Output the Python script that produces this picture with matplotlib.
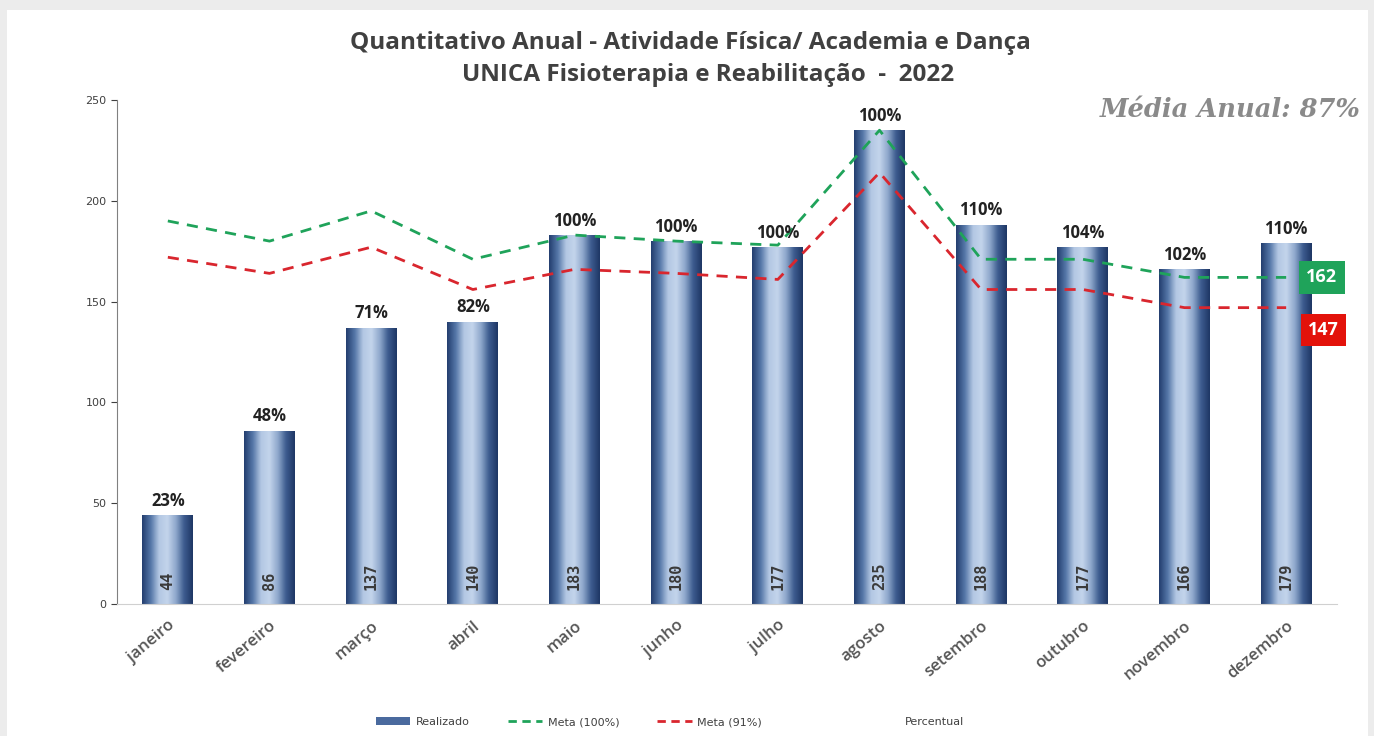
import numpy as np
import matplotlib
matplotlib.use("Agg")
import matplotlib.pyplot as plt
from matplotlib.colors import LinearSegmentedColormap
from matplotlib.patches import Rectangle, Patch
from matplotlib.lines import Line2D

# data
meses = ["janeiro", "fevereiro", "março", "abril", "maio", "junho",
         "julho", "agosto", "setembro", "outubro", "novembro", "dezembro"]
realizado = [44, 86, 137, 140, 183, 180, 177, 235, 188, 177, 166, 179]
meta_100 = [190, 180, 195, 171, 183, 180, 178, 235, 171, 171, 162, 162]
meta_91 = [172, 164, 177, 156, 166, 164, 161, 214, 156, 156, 147, 147]
percentual = ["23%", "48%", "71%", "82%", "100%", "100%", "100%", "100%",
              "110%", "104%", "102%", "110%"]
media_anual = "Média Anual: 87%"

GREEN = "#1fa35a"
RED = "#d9262e"
TXT = "#404040"

fig = plt.figure(figsize=(13.74, 7.36), dpi=100, facecolor="#ececec")
# white card with a light shadow frame
fig.patches.append(Rectangle((7 / 1374, 0), 1361 / 1374, 726 / 736,
                             transform=fig.transFigure, facecolor="white",
                             edgecolor="none", zorder=-5))

ax = fig.add_axes([117 / 1374, 132 / 736, 1220 / 1374, 504 / 736])
ax.set_facecolor("none")
x = np.arange(len(meses))

# bars with a horizontal "cylinder" gradient
bars = ax.bar(x, realizado, width=0.5, color="none", zorder=2)
cmap = LinearSegmentedColormap.from_list(
    "cyl", ["#243f70", "#5577a8", "#b3c7e3", "#c4d5ec", "#8fa8cc", "#3d5c8f", "#1f3765"])
grad = np.linspace(0, 1, 64).reshape(1, -1)
for b in bars:
    x0, w, h = b.get_x(), b.get_width(), b.get_height()
    im = ax.imshow(grad, cmap=cmap, aspect="auto", extent=[x0, x0 + w, 0, h],
                   zorder=2, interpolation="bicubic")
    im.set_clip_path(b)

ax.plot(x, meta_100, color=GREEN, lw=2, ls=(0, (4, 3)), zorder=3)
ax.plot(x, meta_91, color=RED, lw=2, ls=(0, (4, 3)), zorder=3)

for xi, v, p in zip(x, realizado, percentual):
    ax.annotate(p, (xi, v), xytext=(0, 4), textcoords="offset points",
                ha="center", va="bottom", fontsize=12, fontweight="bold",
                color="#222222", family="Open Sans", zorder=5)
    ax.text(xi, 7, str(v), rotation=90, ha="center", va="bottom",
            fontsize=11, fontweight="bold", color="#3a3a3a",
            family="DejaVu Sans Mono", zorder=5)

# end labels
ax.text(11.35, meta_100[-1], str(meta_100[-1]), ha="center", va="center",
        fontsize=13, fontweight="bold", color="white", family="Open Sans",
        bbox=dict(boxstyle="square,pad=0.4", fc=GREEN, ec="none"), zorder=6,
        clip_on=False)
ax.text(11.37, meta_91[-1] - 11, str(meta_91[-1]), ha="center", va="center",
        fontsize=13, fontweight="bold", color="white", family="Open Sans",
        bbox=dict(boxstyle="square,pad=0.4", fc="#e3120b", ec="none"), zorder=6,
        clip_on=False)

ax.set_xlim(-0.5, 11.5)
ax.set_ylim(0, 250)
ax.set_yticks([0, 50, 100, 150, 200, 250])
ax.tick_params(axis="y", labelsize=8, colors=TXT, length=4, direction="out")
ax.set_xticks(x)
ax.set_xticklabels(meses, rotation=40, ha="right", rotation_mode="anchor",
                   fontsize=12, color="#555555", fontweight="semibold",
                   family="Open Sans")
ax.tick_params(axis="x", length=0, pad=10)
for s in ["top", "right"]:
    ax.spines[s].set_visible(False)
ax.spines["left"].set_color("#808080")
ax.spines["bottom"].set_color("#d0d0d0")

fig.text(690 / 1374, 0.942, "Quantitativo Anual - Atividade Física/ Academia e Dança",
         ha="center", va="center", fontsize=17.5, fontweight="bold",
         color=TXT, family="Open Sans")
fig.text(708 / 1374, 0.898, "UNICA Fisioterapia e Reabilitação  -  2022",
         ha="center", va="center", fontsize=17.5, fontweight="bold",
         color=TXT, family="Open Sans")
fig.text(0.99, 0.851, media_anual, ha="right", va="center", fontsize=18.5,
         fontweight="bold", style="italic", color="#8a8a8a",
         family="DejaVu Serif")

handles = [Patch(facecolor="#4a6a9e", edgecolor="none"),
           Line2D([], [], color=GREEN, lw=2, ls=(0, (3, 2))),
           Line2D([], [], color=RED, lw=2, ls=(0, (3, 2)))]
fig.legend(handles, ["Realizado", "Meta (100%)", "Meta (91%)"],
           loc="center left", bbox_to_anchor=(366 / 1374, 0.019), ncol=3,
           frameon=False, fontsize=8, handlelength=3.1, handletextpad=0.5,
           columnspacing=3.4, labelcolor=TXT)
fig.text(905 / 1374, 0.019, "Percentual", ha="left", va="center",
         fontsize=8, color=TXT)

fig.savefig("out.png", dpi=100, facecolor=fig.get_facecolor())
